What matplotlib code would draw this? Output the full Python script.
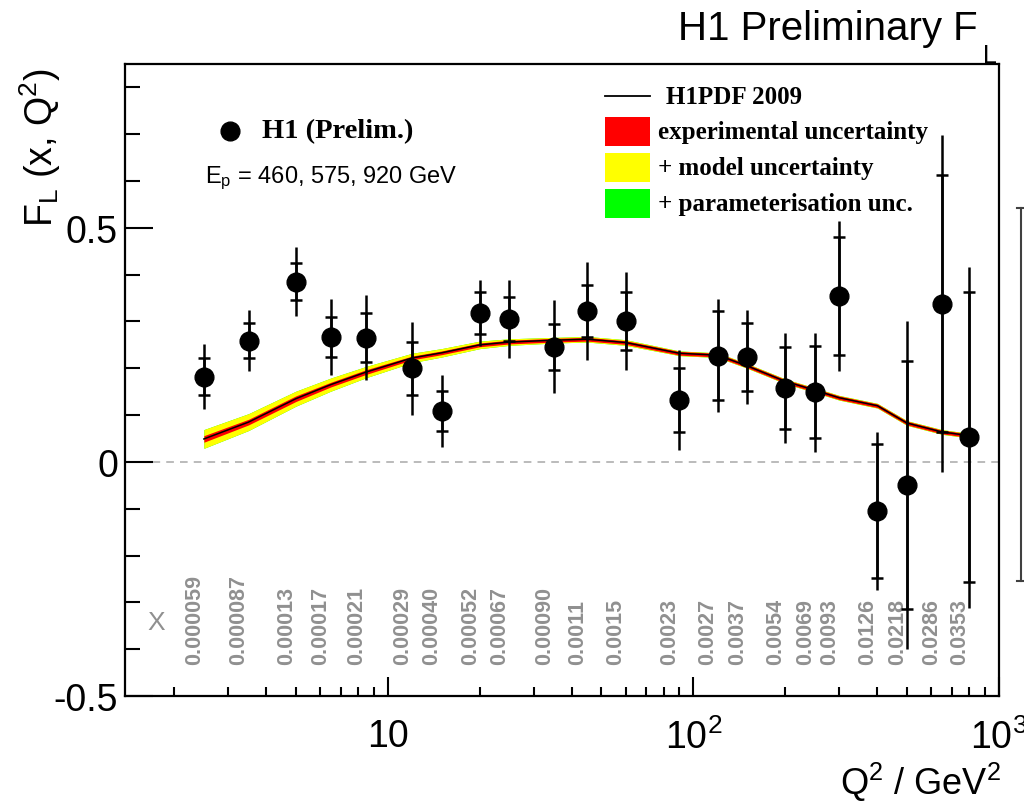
import numpy as np
import matplotlib
matplotlib.use('Agg')
import matplotlib.pyplot as plt
from matplotlib.lines import Line2D
from matplotlib.patches import Rectangle
from matplotlib.ticker import FixedLocator, LogLocator, NullFormatter

plt.rcParams['font.family'] = ['Liberation Sans', 'DejaVu Sans']
plt.rcParams['mathtext.fontset'] = 'custom'
plt.rcParams['mathtext.rm'] = 'Liberation Sans'
plt.rcParams['mathtext.it'] = 'Liberation Sans'
plt.rcParams['mathtext.default'] = 'regular'

# H1 preliminary FL data
q2 = [2.5, 3.5, 5.0, 6.5, 8.5, 12, 15, 20, 25, 35, 45, 60, 90, 120, 150, 200, 250, 300, 400, 500, 650, 800]
fl = [0.182, 0.259, 0.385, 0.267, 0.265, 0.200, 0.109, 0.318, 0.305, 0.246, 0.322, 0.301,
      0.132, 0.227, 0.224, 0.158, 0.149, 0.355, -0.105, -0.049, 0.338, 0.053]
err_stat = [0.040, 0.037, 0.039, 0.042, 0.052, 0.057, 0.042, 0.045, 0.047, 0.049, 0.055, 0.062,
            0.069, 0.095, 0.072, 0.088, 0.099, 0.126, 0.143, 0.265, 0.274, 0.310]
err_tot = [0.070, 0.065, 0.073, 0.082, 0.091, 0.099, 0.077, 0.070, 0.083, 0.099, 0.105, 0.105,
           0.107, 0.120, 0.100, 0.118, 0.127, 0.160, 0.168, 0.350, 0.360, 0.364]
x_labels = ['0.000059', '0.000087', '0.00013', '0.00017', '0.00021', '0.00029', '0.00040',
            '0.00052', '0.00067', '0.00090', '0.0011', '0.0015', '0.0023', '0.0027', '0.0037',
            '0.0054', '0.0069', '0.0093', '0.0126', '0.0218', '0.0286', '0.0353']

# H1PDF 2009 prediction and its uncertainty bands (half widths)
fl_pdf = [0.049, 0.085, 0.135, 0.165, 0.192, 0.222, 0.233, 0.250, 0.256, 0.260, 0.262, 0.255,
          0.232, 0.228, 0.205, 0.172, 0.153, 0.137, 0.120, 0.083, 0.064, 0.056]
unc_exp = [0.007, 0.006, 0.006, 0.005, 0.005, 0.004, 0.004, 0.004, 0.004, 0.004, 0.004, 0.004,
           0.004, 0.004, 0.004, 0.004, 0.004, 0.004, 0.004, 0.004, 0.004, 0.004]
unc_model = [0.020, 0.018, 0.016, 0.014, 0.012, 0.010, 0.009, 0.008, 0.007, 0.006, 0.006, 0.006,
             0.005, 0.005, 0.005, 0.005, 0.005, 0.005, 0.005, 0.005, 0.005, 0.005]
unc_param = unc_model

q2 = np.array(q2)
fl = np.array(fl)
fl_pdf = np.array(fl_pdf)

fig = plt.figure(figsize=(10.24, 8.04), dpi=100)
ax = fig.add_axes([0.1221, 0.1331, 0.8535, 0.7861])

# bands
ax.fill_between(q2, fl_pdf - np.array(unc_param), fl_pdf + np.array(unc_param), color='#00ff00', lw=0)
ax.fill_between(q2, fl_pdf - np.array(unc_model), fl_pdf + np.array(unc_model), color='#ffff00', lw=0)
ax.fill_between(q2, fl_pdf - np.array(unc_exp), fl_pdf + np.array(unc_exp), color='#ff0000', lw=0)
ax.plot(q2, fl_pdf, '-', color='black', lw=1.1)

ax.axhline(0, color='#a8a8a8', lw=1.1, ls=(0, (5, 4)), zorder=1)

# data: total error as plain line, stat error with ticks
ax.vlines(q2, fl - np.array(err_tot), fl + np.array(err_tot), color='black', lw=1.8, zorder=3)
ax.errorbar(q2, fl, yerr=err_stat, fmt='o', color='black', ms=13.5, elinewidth=1.8,
            capsize=4, capthick=1.8, zorder=4)

for q, lab in zip(q2, x_labels):
    ax.annotate(lab, (q, -0.432), xytext=(-7, 0), textcoords='offset points',
                rotation=90, ha='center', va='bottom', fontsize=15.5, fontweight='bold',
                color='#909090')
ax.text(1.75, -0.342, 'X', fontsize=19, color='#909090', ha='center', va='center')

ax.set_xscale('log')
ax.set_xlim(1.38, 1000)
ax.set_ylim(-0.5, 0.85)

ax.set_xticks([10, 100, 1000])
ax.set_xticklabels(['10', '10$^2$', '10$^3$'])
ax.xaxis.set_minor_locator(LogLocator(base=10, subs=np.arange(2, 10)))
ax.xaxis.set_minor_formatter(NullFormatter())
ax.set_yticks([-0.5, 0, 0.5])
ax.set_yticklabels(['-0.5', '0', '0.5'])
ax.yaxis.set_minor_locator(FixedLocator(np.round(np.arange(-0.4, 0.85, 0.1), 2)))

ax.tick_params(axis='x', which='major', direction='in', length=14, width=1.5, labelsize=27, pad=16,
               top=False)
ax.tick_params(axis='x', which='minor', direction='in', length=6.5, width=1.5, top=False)
ax.tick_params(axis='y', which='major', direction='in', length=20, width=1.5, labelsize=27, pad=5,
               right=False)
ax.tick_params(axis='y', which='minor', direction='in', length=11, width=1.5, right=False)
for s in ax.spines.values():
    s.set_linewidth(1.6)

fig.text(40 / 1024, 1 - 148 / 804, 'F$_L$ (x, Q$^2$)', rotation=90, fontsize=27,
         ha='center', va='center')
fig.text(1001 / 1024, 1 - 782 / 804, 'Q$^2$ / GeV$^2$', fontsize=26, ha='right', va='center')
fig.text(978 / 1024, 1 - 40 / 804, 'H1 Preliminary F', fontsize=29, ha='right', va='baseline')
fig.text(983 / 1024, 1 - 63 / 804, 'L', fontsize=18, ha='left', va='baseline')

# legend, drawn by hand in axes fraction
serif = ['Liberation Serif', 'DejaVu Serif']
ax.add_line(Line2D([0.549, 0.601], [0.949, 0.949], color='black', lw=1.3, transform=ax.transAxes))
ax.text(0.619, 0.949, 'H1PDF 2009', transform=ax.transAxes, fontsize=18, fontweight='bold',
        family=serif, va='center', ha='left')
boxes = [('#ff0000', 0.870, 'experimental uncertainty'),
         ('#ffff00', 0.813, '+ model uncertainty'),
         ('#00ff00', 0.756, '+ parameterisation unc.')]
for col, y0, lab in boxes:
    ax.add_patch(Rectangle((0.549, y0), 0.052, 0.046, transform=ax.transAxes, color=col, lw=0))
    ax.text(0.61, y0 + 0.023, lab, transform=ax.transAxes, fontsize=18, fontweight='bold',
            family=serif, va='center', ha='left')

ax.plot([0.120], [0.894], 'o', color='black', ms=13.5, transform=ax.transAxes)
ax.text(0.157, 0.894, 'H1 (Prelim.)', transform=ax.transAxes, fontsize=20.5, fontweight='bold',
        family=serif, va='center', ha='left')
ax.text(0.0915, 0.821, 'E$_p$ = 460, 575, 920 GeV', transform=ax.transAxes, fontsize=17,
        va='center', ha='left')

# edge of neighbouring panel
fig.add_artist(Line2D([1021 / 1024] * 2, [1 - 209 / 804, 1 - 582 / 804], color='#404040', lw=1.5))
for yp in (209, 582):
    fig.add_artist(Line2D([1017 / 1024, 1024 / 1024], [1 - yp / 804] * 2, color='#404040', lw=1.5))

fig.savefig('out.png', dpi=100)
